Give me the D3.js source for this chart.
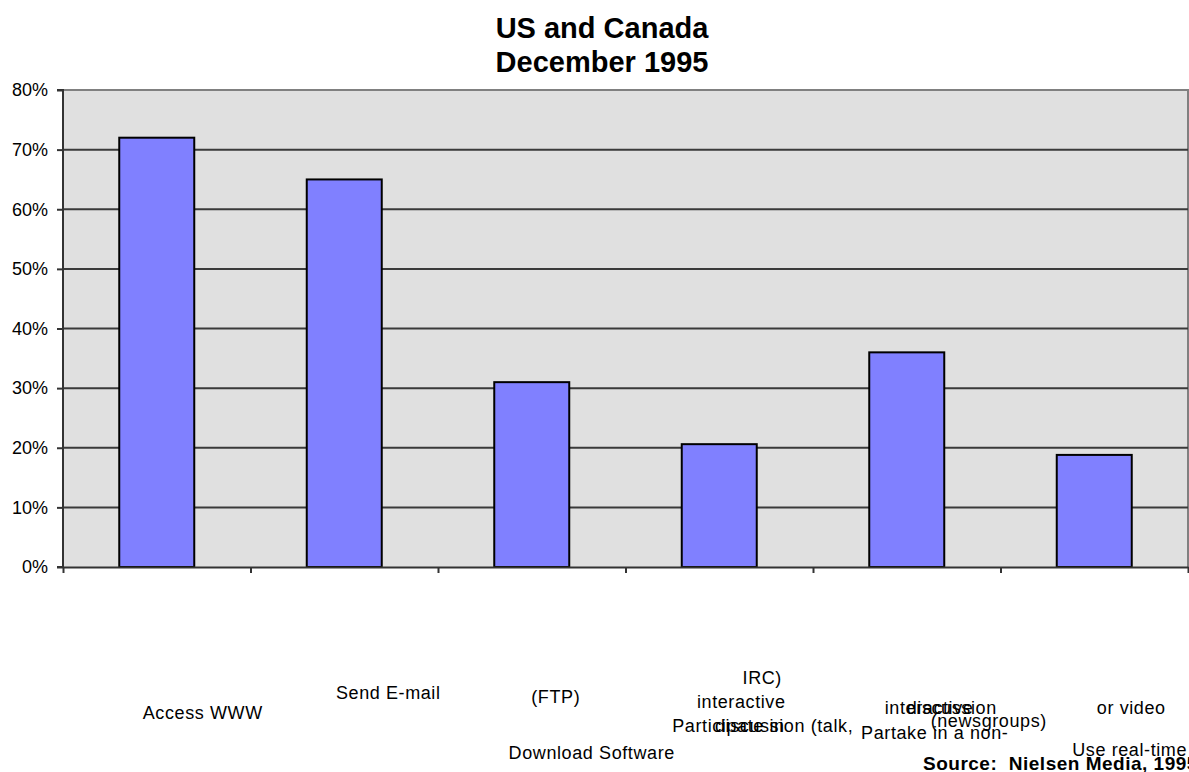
<!DOCTYPE html>
<html>
<head>
<meta charset="utf-8">
<script src="https://cdn.jsdelivr.net/npm/d3@7"></script>
<style>
  html, body { margin: 0; padding: 0; background: #ffffff; }
  svg { display: block; font-family: "Liberation Sans", Arial, sans-serif; }
</style>
</head>
<body>
<svg id="chart" width="1189" height="772"></svg>
<script>
// Share of users doing each activity, US and Canada, December 1995
const categories = ["Access WWW", "Send E-mail", "Download Software (FTP)",
  "Participate in interactive discussion (talk, IRC)",
  "Partake in a non-interactive discussion (newsgroups)",
  "Use real-time or video"];
const shares = [0.72, 0.65, 0.31, 0.206, 0.36, 0.188];
const yTicks = [0, 0.1, 0.2, 0.3, 0.4, 0.5, 0.6, 0.7, 0.8];
const titleLines = ["US and Canada", "December 1995"];
const sourceNote = "Source:  Nielsen Media, 1995";

// Category label fragments as they sit under each column (index, text)
const labelPieces = [
  [0, "Access WWW"],
  [1, "Send E-mail"],
  [2, "(FTP)"], [2, "Download Software"],
  [3, "IRC)"], [3, "interactive"], [3, "Participate in"], [3, "discussion (talk,"],
  [4, "interactive"], [4, "discussion"], [4, "(newsgroups)"], [4, "Partake in a non-"],
  [5, "or video"], [5, "Use real-time"]
];
// Offsets of each fragment from its column centre: [dx, y, anchor]
const labelPlacement = [
  [46, 713, "middle"],
  [44, 693, "middle"],
  [24, 697, "middle"], [60, 753, "middle"],
  [43, 678, "middle"], [22, 702, "middle"], [-47, 726, "start"], [134, 726, "end"],
  [-22, 708, "start"], [90, 708, "end"], [82, 721, "middle"], [28, 733, "middle"],
  [37, 708, "middle"], [-22, 750, "start"]
];

const svg = d3.select("#chart");
const m = { left: 63, right: 1188, top: 90, bottom: 567 };

const x = d3.scaleBand().domain(d3.range(categories.length))
  .range([m.left, m.right]).paddingInner(0.6).paddingOuter(0.3);
const xEdge = d3.scaleLinear().domain([0, categories.length]).range([m.left, m.right]);
const y = d3.scaleLinear().domain([0, 0.8]).range([m.bottom, m.top]);

// plot background
svg.append("rect")
  .attr("x", m.left).attr("y", m.top)
  .attr("width", m.right - m.left).attr("height", m.bottom - m.top)
  .attr("fill", "#e0e0e0");

// top and right frame
svg.append("path")
  .attr("d", `M${m.left},${m.top}H${m.right}V${m.bottom}`)
  .attr("fill", "none").attr("stroke", "#808080").attr("stroke-width", 2);

// horizontal gridlines
svg.append("g").selectAll("line")
  .data(yTicks.filter(d => d > 0 && d < 0.8))
  .join("line")
  .attr("x1", m.left).attr("x2", m.right)
  .attr("y1", d => y(d)).attr("y2", d => y(d))
  .attr("stroke", "#3a3a3a").attr("stroke-width", 2);

// bars
svg.append("g").selectAll("rect")
  .data(shares)
  .join("rect")
  .attr("x", (d, i) => x(i))
  .attr("y", d => y(d))
  .attr("width", x.bandwidth())
  .attr("height", d => y(0) - y(d))
  .attr("fill", "#8080ff")
  .attr("stroke", "#000000").attr("stroke-width", 2);

// y axis
const yAxis = d3.axisLeft(y).tickValues(yTicks)
  .tickFormat(d3.format(".0%")).tickSize(6).tickPadding(9);
const gy = svg.append("g").attr("transform", `translate(${m.left},0)`).call(yAxis);
gy.select(".domain").attr("stroke", "#333333").attr("stroke-width", 2)
  .attr("d", `M${-6},${m.bottom}H0V${m.top}H-6`);
gy.selectAll(".tick line").attr("stroke", "#333333").attr("stroke-width", 2);
gy.selectAll(".tick text").attr("font-size", 18).attr("fill", "#000")
  .attr("font-family", "Liberation Sans, Arial, sans-serif");

// x axis baseline with ticks at column edges
const xAxis = d3.axisBottom(xEdge).tickValues(d3.range(categories.length + 1))
  .tickFormat("").tickSize(6).tickSizeOuter(0);
const gx = svg.append("g").attr("transform", `translate(0,${m.bottom})`).call(xAxis);
gx.select(".domain").attr("stroke", "#333333").attr("stroke-width", 2);
gx.selectAll(".tick line").attr("stroke", "#333333").attr("stroke-width", 2);

// title
svg.append("g").selectAll("text")
  .data(titleLines)
  .join("text")
  .attr("x", 602).attr("y", (d, i) => 38 + i * 34)
  .attr("text-anchor", "middle")
  .attr("font-size", 29).attr("font-weight", "bold").attr("fill", "#000")
  .text(d => d);

// category labels
const centre = i => x(i) + x.bandwidth() / 2;
svg.append("g").selectAll("text")
  .data(labelPieces)
  .join("text")
  .attr("x", (d, k) => centre(d[0]) + labelPlacement[k][0])
  .attr("y", (d, k) => labelPlacement[k][1])
  .attr("dy", "0.35em")
  .attr("text-anchor", (d, k) => labelPlacement[k][2])
  .attr("font-size", 18).attr("letter-spacing", 0.6).attr("fill", "#000")
  .text(d => d[1]);

// source note
svg.append("text")
  .attr("x", 923).attr("y", 763).attr("dy", "0.35em")
  .style("white-space", "pre")
  .attr("font-size", 19).attr("letter-spacing", 0.5)
  .attr("font-weight", "bold").attr("fill", "#000")
  .text(sourceNote);
</script>
</body>
</html>
